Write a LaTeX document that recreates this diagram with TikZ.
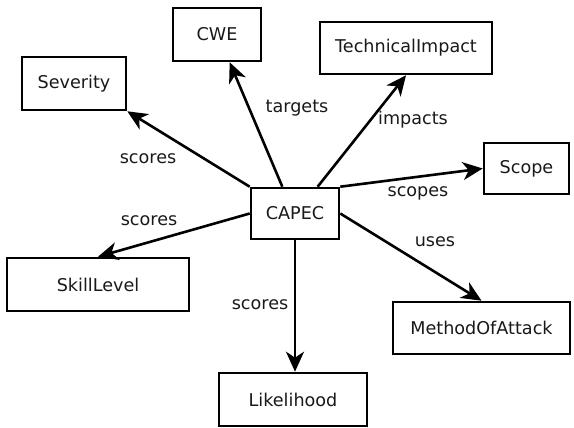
\documentclass[tikz,border=0pt]{standalone}
\usepackage{fontspec}
\setmainfont{DejaVu Sans}
\usetikzlibrary{arrows.meta,calc}
\begin{document}
\begin{tikzpicture}[x=1pt,y=-1pt,
  box/.style={draw=black,line width=2.6pt,fill=white,inner sep=0pt,font=\fontsize{17.6}{20}\selectfont,text=black!90},
  lbl/.style={inner sep=0pt,font=\fontsize{17.6}{20}\selectfont,text=black!90},
  rel/.style={line width=2.6pt,-{Stealth[length=20pt,width=18pt,inset=6pt]}}]
\useasboundingbox (0,0) rectangle (574,428);
\node[box,minimum width=88pt,minimum height=51pt] (capec) at (295,213.5) {CAPEC};
\node[box,minimum width=88pt,minimum height=53pt] (cwe) at (217,34.5) {CWE};
\node[box,minimum width=104pt,minimum height=53pt] (sev) at (74,83.5) {Severity};
\node[box,minimum width=172pt,minimum height=52pt] (ti) at (406,48) {TechnicalImpact};
\node[box,minimum width=85pt,minimum height=51pt] (scope) at (526.5,168.5) {Scope};
\node[box,minimum width=182pt,minimum height=53pt] (skill) at (98,284.5) {SkillLevel};
\node[box,minimum width=148pt,minimum height=53pt] (lik) at (293,399.5) {Likelihood};
\node[box,minimum width=177pt,minimum height=52pt] (moa) at (481.5,328) {MethodOfAttack};

\draw[rel] (capec.north west) -- (sev.south east);
\draw[rel] ($(capec.north west)!0.36!(capec.north east)$) -- ($(cwe.south west)!0.64!(cwe.south east)$);
\draw[rel] ($(capec.north west)!0.75!(capec.north east)$) -- (ti.south);
\draw[rel] (capec.north east) -- (scope.west);
\draw[rel] (capec.west) -- (skill.north);
\draw[rel] (capec.south) -- (capec.south |- lik.north);
\draw[rel] (capec.east) -- (moa.north);

\node[lbl] (l1) at (148,159) {scores};
\node[lbl] (l2) at (297,108) {targets};
\node[lbl] (l3) at (413,120) {impacts};
\node[lbl] (l4) at (418,193) {scopes};
\node[lbl] (l5) at (149,221) {scores};
\node[lbl] (l6) at (260,305) {scores};
\node[lbl] (l7) at (435,242) {uses};
\end{tikzpicture}
\end{document}
